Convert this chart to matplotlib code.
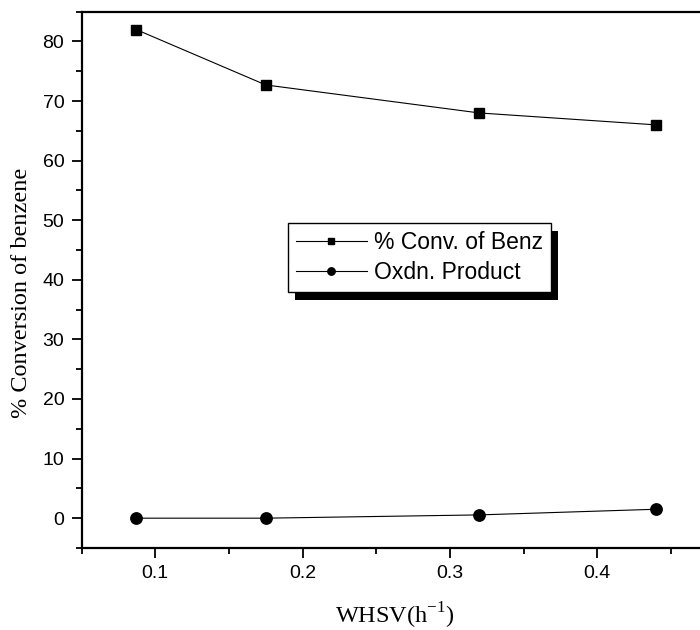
import matplotlib
matplotlib.use("Agg")
import matplotlib.pyplot as plt
import matplotlib.patheffects as pe
from matplotlib.ticker import FixedLocator, MultipleLocator

# WHSV values and measured responses
whsv = [0.087, 0.175, 0.32, 0.44]
conv_benz = [82.0, 72.7, 68.0, 66.0]
oxdn_product = [0.0, 0.0, 0.55, 1.5]
x_ticks = [0.1, 0.2, 0.3, 0.4]

sans = "Liberation Sans"
serif = "Liberation Serif"

fig = plt.figure(figsize=(7.0, 6.3), dpi=100)
# axes runs past the right edge of the figure
ax = fig.add_axes([0.1166, 0.1302, 0.947, 0.8513])

ax.plot(whsv, conv_benz, color="black", lw=0.8, marker="s", ms=7.2,
        mfc="black", mec="black", label="% Conv. of Benz")
ax.plot(whsv, oxdn_product, color="black", lw=0.8, marker="o", ms=8.2,
        mfc="black", mec="black", label="Oxdn. Product")

ax.set_xlim(0.05, 0.5)
ax.set_ylim(-5, 85)

ax.xaxis.set_major_locator(FixedLocator(x_ticks))
ax.xaxis.set_minor_locator(MultipleLocator(0.05))
ax.yaxis.set_major_locator(MultipleLocator(10))
ax.yaxis.set_minor_locator(MultipleLocator(5))

ax.tick_params(which="major", direction="out", length=7.5, width=1.3,
               pad=5.0, labelsize=14, top=False, right=False)
ax.tick_params(which="minor", direction="out", length=4.0, width=1.3,
               top=False, right=False)
for lab in ax.get_xticklabels() + ax.get_yticklabels():
    lab.set_family(sans)

for side in ["left", "bottom", "top", "right"]:
    ax.spines[side].set_linewidth(1.6)

ax.set_xlabel("WHSV(h$^{\\mathregular{-1}}$)", family=serif, fontsize=17.5)
ax.xaxis.set_label_coords(0.473, -0.098)
ax.xaxis.label.set_va("top")

ax.set_ylabel("% Conversion of benzene", family=serif, fontsize=17.5)
ax.yaxis.set_label_coords(-0.0903, 0.4755)
ax.yaxis.label.set_va("center")

leg = ax.legend(loc="upper left", bbox_to_anchor=(0.311, 0.6054),
                prop={"family": sans, "size": 16.5}, frameon=True,
                fancybox=False, edgecolor="black", borderpad=0.35,
                handlelength=3.1, handletextpad=0.3, labelspacing=0.3,
                markerscale=0.65, borderaxespad=0.0)
frame = leg.get_frame()
frame.set_linewidth(1.0)
frame.set_alpha(1.0)
frame.set_path_effects([
    pe.SimplePatchShadow(offset=(5.5, -5.5), shadow_rgbFace="black", alpha=1.0),
    pe.Normal(),
])

fig.savefig("out.png", dpi=100)
